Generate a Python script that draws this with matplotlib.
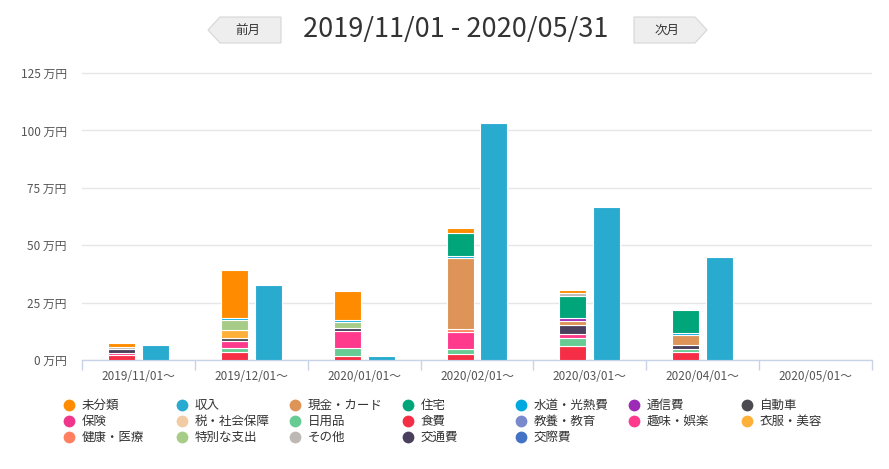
import numpy as np
import matplotlib
matplotlib.use('Agg')
import matplotlib.pyplot as plt
from matplotlib.patches import Polygon

plt.rcParams['font.family'] = ['Noto Sans CJK JP', 'DejaVu Sans']

# ---- data (万円) ----
months = ['2019/11/01〜', '2019/12/01〜', '2020/01/01〜', '2020/02/01〜',
          '2020/03/01〜', '2020/04/01〜', '2020/05/01〜']
income = [6.5, 32.7, 1.7, 103.2, 66.6, 44.9, 0]

# expense categories, bottom to top
food = [2.3, 3.5, 1.7, 2.6, 6.1, 3.5, 0]
daily = [0, 1.7, 3.5, 2.2, 3.5, 1.3, 0]
hobby = [0.6, 3.0, 7.4, 7.4, 1.7, 0, 0]
health = [0, 0, 0, 1.4, 0, 0, 0]
transport = [1.9, 0, 1.3, 0, 3.9, 1.7, 0]
car = [0, 1.3, 0, 0, 0, 0, 0]
clothes = [0, 3.5, 0, 0, 0, 0, 0]
special = [0, 4.4, 2.6, 0, 0, 0, 0]
cash = [0, 0, 0, 30.8, 1.7, 4.4, 0]
utility = [0, 0.9, 1.0, 1.0, 0, 1.0, 0]
phone = [0, 0, 0, 0, 1.3, 0, 0]
housing = [0, 0, 0, 9.9, 9.6, 9.9, 0]
other = [1.0, 0, 0, 0, 1.3, 0, 0]
unsorted = [1.7, 20.9, 12.5, 2.3, 1.3, 0, 0]

stack = [
    ('食費', food), ('日用品', daily), ('趣味・娯楽', hobby), ('健康・医療', health),
    ('交通費', transport), ('自動車', car), ('衣服・美容', clothes),
    ('特別な支出', special), ('現金・カード', cash), ('水道・光熱費', utility),
    ('通信費', phone), ('住宅', housing), ('その他', other), ('未分類', unsorted),
]

colors = {
    '未分類': '#FF8C00', '収入': '#29AACF', '現金・カード': '#DD9456', '住宅': '#00A57A',
    '水道・光熱費': '#00A8E0', '通信費': '#9C2BB5', '自動車': '#4A4A50',
    '保険': '#F0368A', '税・社会保障': '#F2CBA5', '日用品': '#66CC93', '食費': '#F52D45',
    '教養・教育': '#7A88CC', '趣味・娯楽': '#FF3A8C', '衣服・美容': '#FFB038',
    '健康・医療': '#FF8060', '特別な支出': '#A6CC88', 'その他': '#BEB8B4',
    '交通費': '#4A3F5C', '交際費': '#4472C4',
}

legend_rows = [
    ['未分類', '収入', '現金・カード', '住宅', '水道・光熱費', '通信費', '自動車'],
    ['保険', '税・社会保障', '日用品', '食費', '教養・教育', '趣味・娯楽', '衣服・美容'],
    ['健康・医療', '特別な支出', 'その他', '交通費', '交際費'],
]

W, H = 889, 469
fig = plt.figure(figsize=(W / 100, H / 100), dpi=100)

# main plot area (pixel based)
left, right, base, top = 82, 872, 360, 73
ymax = 130
px_per = (base - top) / 125
ax = fig.add_axes([left / W, (H - base) / H, (right - left) / W, ymax * px_per / H])

x = np.arange(len(months))
bw = 0.24
off = 0.15

bottom = np.zeros(len(months))
for name, vals in stack:
    v = np.array(vals, dtype=float)
    m = v > 0
    ax.bar(x[m] - off, v[m], bw, bottom=bottom[m], color=colors[name],
           edgecolor='white', linewidth=0.8, zorder=3)
    bottom += v

inc = np.array(income, dtype=float)
m = inc > 0
ax.bar(x[m] + off, inc[m], bw, color=colors['収入'], edgecolor='white',
       linewidth=0.8, zorder=3)

ax.set_xlim(-0.5, len(months) - 0.5)
ax.set_ylim(0, ymax)
ax.set_yticks([0, 25, 50, 75, 100, 125])
ax.set_yticklabels([f'{t} 万円' for t in [0, 25, 50, 75, 100, 125]])
ax.tick_params(axis='y', length=0, pad=11, labelsize=8.5, labelcolor='#555555')
ax.set_xticks(x)
ax.set_xticklabels(months)
ax.set_xticks(np.arange(-0.5, len(months), 1), minor=True)
ax.tick_params(axis='x', which='major', length=0, pad=7, labelsize=8.5, labelcolor='#555555')
ax.tick_params(axis='x', which='minor', length=7, width=1, color='#C9D3E8')
ax.grid(axis='y', color='#E6E6E6', linewidth=1, zorder=0)
for s in ['top', 'right', 'left']:
    ax.spines[s].set_visible(False)
ax.spines['bottom'].set_color('#C9D3E8')
ax.spines['bottom'].set_linewidth(1)

# overlay for header and legend
ov = fig.add_axes([0, 0, 1, 1], zorder=5)
ov.set_xlim(0, W)
ov.set_ylim(H, 0)
ov.axis('off')
ov.patch.set_alpha(0)

ov.text(456, 30, '2019/11/01 - 2020/05/31', fontsize=19.5, color='#333333',
        ha='center', va='center')

prev_btn = Polygon([(208, 30), (220, 17), (281, 17), (281, 43), (220, 43)],
                   closed=True, facecolor='#EEEEEE', edgecolor='#D6D6D6', linewidth=0.8)
next_btn = Polygon([(634, 17), (695, 17), (707, 30), (695, 43), (634, 43)],
                   closed=True, facecolor='#EEEEEE', edgecolor='#D6D6D6', linewidth=0.8)
ov.add_patch(prev_btn)
ov.add_patch(next_btn)
ov.text(248, 30, '前月', fontsize=9, color='#333333', ha='center', va='center')
ov.text(667, 30, '次月', fontsize=9, color='#333333', ha='center', va='center')

# legend
for r, row in enumerate(legend_rows):
    for c, name in enumerate(row):
        mx = 69 + 113 * c
        my = 405 + 16 * r
        ov.scatter([mx], [my], s=72, color=colors[name], linewidths=0)
        ov.text(mx + 13, my, name, fontsize=9, color='#333333', ha='left', va='center')

fig.savefig('out.png', dpi=100)
